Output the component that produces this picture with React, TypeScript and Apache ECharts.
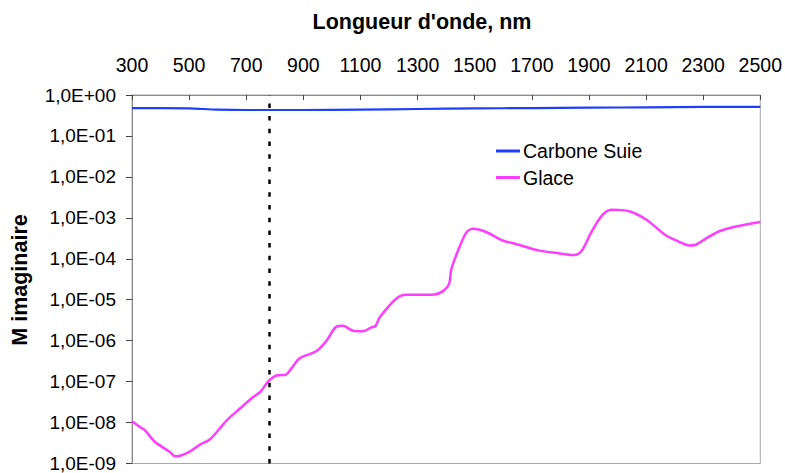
import React, { useEffect, useRef } from "react";
import * as echarts from "echarts";

const FONT = '"Liberation Sans", Arial, Helvetica, sans-serif';

const titleText = "Longueur d'onde, nm";
const yAxisTitle = "M imaginaire";
const seriesNames = ["Carbone Suie", "Glace"];
const markerWavelength = 780;

const sootWavelengths = [300, 400, 500, 600, 700, 900, 1100, 1300, 1500, 1700, 1900, 2100, 2300, 2500];
const sootValues = [0.48, 0.48, 0.47, 0.44, 0.43, 0.43, 0.44, 0.455, 0.47, 0.48, 0.49, 0.5, 0.51, 0.51];

const iceWavelengths = [
  300, 328, 345, 380, 433, 450, 468, 497, 538, 573, 631, 678, 724, 748, 779, 806, 839, 858, 887, 946,
  981, 1016, 1039, 1074, 1109, 1138, 1153, 1167, 1226, 1260, 1307, 1359, 1389, 1410, 1418, 1441, 1470,
  1493, 1540, 1598, 1645, 1727, 1797, 1849, 1876, 1907, 1948, 1983, 2041, 2100, 2170, 2216, 2251, 2274,
  2309, 2356, 2403, 2500,
];
const iceValues = [
  1.07e-8, 7.8e-9, 6.5e-9, 3.4e-9, 1.9e-9, 1.5e-9, 1.55e-9, 1.86e-9, 2.9e-9, 3.9e-9, 1.12e-8, 2.2e-8,
  4.2e-8, 5.5e-8, 1.05e-7, 1.41e-7, 1.48e-7, 2.1e-7, 3.7e-7, 5.6e-7, 1.0e-6, 2.2e-6, 2.3e-6, 1.74e-6,
  1.7e-6, 2.1e-6, 2.3e-6, 3.7e-6, 1.07e-5, 1.32e-5, 1.32e-5, 1.35e-5, 1.62e-5, 2.4e-5, 5.5e-5, 1.55e-4,
  4.3e-4, 5.4e-4, 4.5e-4, 2.8e-4, 2.3e-4, 1.58e-4, 1.35e-4, 1.23e-4, 1.62e-4, 4.3e-4, 1.2e-3, 1.58e-3,
  1.45e-3, 9.1e-4, 3.7e-4, 2.6e-4, 2.1e-4, 2.2e-4, 3.1e-4, 4.7e-4, 5.9e-4, 7.9e-4,
];

const fmtSci = (v: number) => {
  const e = Math.round(Math.log10(v));
  const a = Math.abs(e);
  return "1,0E" + (e >= 0 ? "+" : "-") + (a < 10 ? "0" + a : String(a));
};

export default function App() {
  const ref = useRef<HTMLDivElement>(null);
  useEffect(() => {
    if (!ref.current) return;
    const chart = echarts.init(ref.current, null, { renderer: "svg" });
    chart.setOption({
      animation: false,
      backgroundColor: "#ffffff",
      textStyle: { fontFamily: FONT, color: "#000" },
      grid: {
        left: 132,
        right: 24,
        top: 95,
        bottom: 8,
        show: true,
        borderColor: "#a8a8a8",
        borderWidth: 1,
        containLabel: false,
      },
      legend: {
        orient: "vertical",
        left: 491,
        top: 136,
        itemGap: 6.5,
        itemWidth: 24,
        itemHeight: 3,
        icon: "rect",
        data: seriesNames,
        textStyle: { fontFamily: FONT, fontSize: 19.5, color: "#000", padding: [0, 0, 0, -2] },
      },
      xAxis: {
        type: "value",
        position: "top",
        min: 300,
        max: 2500,
        interval: 200,
        splitLine: { show: false },
        axisLine: { show: true, lineStyle: { color: "#888", width: 1 } },
        axisTick: { show: true, inside: true, length: 5, lineStyle: { color: "#444" } },
        axisLabel: {
          show: true,
          interval: 0,
          margin: 20,
          fontSize: 19.5,
          fontFamily: FONT,
          color: "#000",
          formatter: (v: number) => String(Math.round(v)),
          showMinLabel: true,
          showMaxLabel: true,
        },
      },
      yAxis: {
        type: "log",
        logBase: 10,
        min: 1e-9,
        max: 1,
        interval: 1,
        splitLine: { show: false },
        axisLine: { show: true, lineStyle: { color: "#888", width: 1 } },
        axisTick: { show: true, inside: false, length: 6, lineStyle: { color: "#444" } },
        minorTick: { show: false },
        axisLabel: {
          show: true,
          margin: 16,
          fontSize: 19,
          fontFamily: FONT,
          color: "#000",
          formatter: (v: number) => fmtSci(v),
          showMinLabel: true,
          showMaxLabel: true,
        },
      },
      graphic: [
        {
          type: "text",
          x: 422,
          y: 22,
          style: {
            text: titleText,
            fontFamily: FONT,
            fontSize: 21.5,
            fontWeight: "bold",
            fill: "#000",
            align: "center",
            verticalAlign: "middle",
          },
        },
        {
          type: "text",
          x: 20,
          y: 280,
          rotation: Math.PI / 2,
          style: {
            text: yAxisTitle,
            fontFamily: FONT,
            fontSize: 21.5,
            fontWeight: "bold",
            fill: "#000",
            align: "center",
            verticalAlign: "middle",
          },
        },
      ],
      series: [
        {
          name: seriesNames[0],
          type: "line",
          data: sootWavelengths.map((x, i) => [x, sootValues[i]]),
          showSymbol: false,
          symbol: "none",
          smooth: 0.3,
          color: "#1f3fff",
          lineStyle: { color: "#1f3fff", width: 2.2 },
          z: 3,
          markLine: {
            silent: true,
            symbol: "none",
            label: { show: false },
            lineStyle: { color: "#000", width: 2.5, type: [4.5, 8.2] },
            data: [{ xAxis: markerWavelength }],
          },
        },
        {
          name: seriesNames[1],
          type: "line",
          data: iceWavelengths.map((x, i) => [x, iceValues[i]]),
          showSymbol: false,
          symbol: "none",
          smooth: 0.3,
          color: "#ff3dff",
          lineStyle: { color: "#ff3dff", width: 2.5 },
          z: 4,
        },
      ],
    });
    return () => chart.dispose();
  }, []);
  return (
    <div
      ref={ref}
      style={{ position: "fixed", left: 0, top: 0, width: 785, height: 473, background: "#fff" }}
    />
  );
}
